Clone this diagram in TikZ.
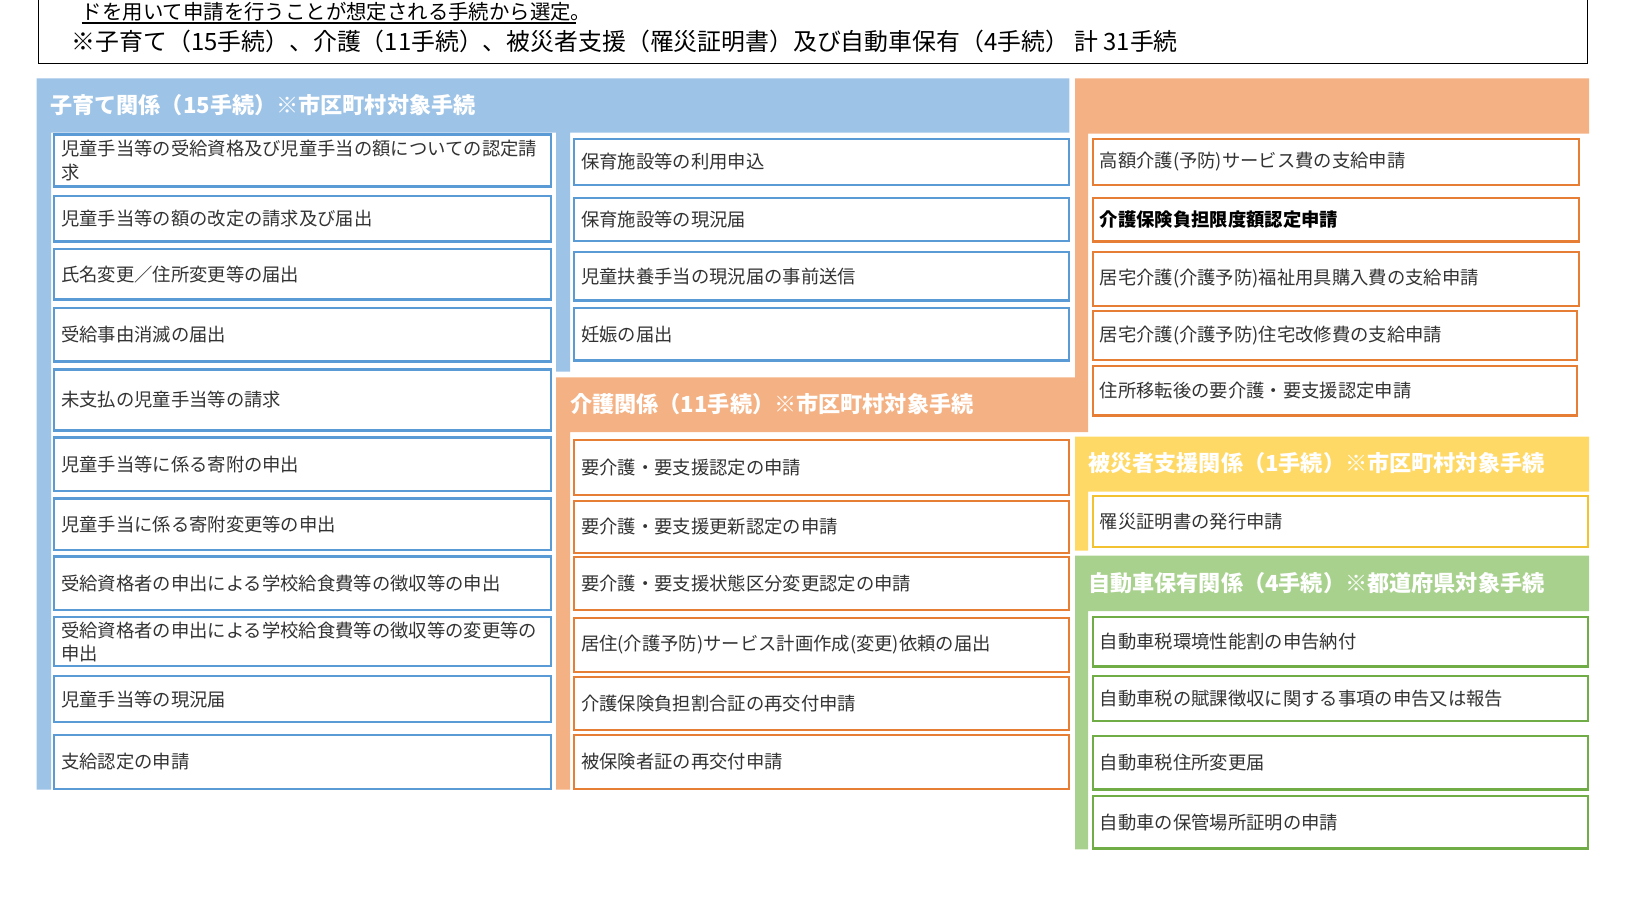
\documentclass[tikz,border=0pt]{standalone}
\usepackage{fontspec}
\setmainfont{Noto Sans CJK JP}
\definecolor{bluefill}{HTML}{9DC3E6}
\definecolor{blueline}{HTML}{5B9BD5}
\definecolor{orangefill}{HTML}{F4B183}
\definecolor{orangeline}{HTML}{E67E35}
\definecolor{yellowfill}{HTML}{FFD966}
\definecolor{yellowline}{HTML}{F2C231}
\definecolor{greenfill}{HTML}{A9D18E}
\definecolor{greenline}{HTML}{70AD47}
\definecolor{textgray}{HTML}{333333}
\newcommand\boxfont{\fontsize{13.75pt}{17.3pt}\selectfont}
\newcommand\headfont{\fontsize{16.6pt}{20pt}\selectfont\bfseries}
\newcommand\procbox[7]{%
  \node[#2, anchor=north west, minimum width={(#5-#3)*0.75pt}, minimum height={(#6-#4)*0.75pt}, text width={(#5-#3-14)*0.75pt}] (#1) at (#3,#4) {#7};}
\tikzset{
  boxbase/.style={draw, fill=white, line width=1.6pt, inner xsep=5.25pt, inner ysep=0pt, outer sep=0pt, align=left, font=\boxfont, text=textgray},
  bluebox/.style={boxbase, draw=blueline},
  orangebox/.style={boxbase, draw=orangeline},
  yellowbox/.style={boxbase, draw=yellowline},
  greenbox/.style={boxbase, draw=greenline},
  headtext/.style={anchor=west, inner sep=0pt, text=white, font=\headfont},
  toptext/.style={anchor=west, inner sep=0pt, text=black}
}
\begin{document}
\begin{tikzpicture}[x=0.75pt,y=-0.75pt]
\useasboundingbox (0,0) rectangle (1625,910);
% top note box
\draw[line width=1.1pt, black] (38.3,-5) rectangle (1587.3,63.3);
\node[toptext, font=\fontsize{15.3pt}{18pt}\selectfont] (t1) at (81.7,12) {ドを用いて申請を行うことが想定される手続から選定。};
\coordinate (ul) at (0,23);
\draw[line width=1.1pt, black] (t1.west |- ul) -- ([xshift=-12pt]t1.east |- ul);
\node[toptext, font=\fontsize{17.9pt}{20pt}\selectfont] (t2) at (71.7,41) {※子育て（15手続）、介護（11手続）、被災者支援（罹災証明書）及び自動車保有（4手続）\ 計 31手続};
% panels
\fill[bluefill] (36.7,78.3) -- (1069.3,78.3) -- (1069.3,132.7) -- (570,132.7) -- (570,371.7) -- (556,371.7) -- (556,132.7) -- (51,132.7) -- (51,789.7) -- (36.7,789.7) -- cycle;
\fill[orangefill] (1075,78.3) -- (1589,78.3) -- (1589,133.5) -- (1088,133.5) -- (1088,432) -- (570,432) -- (570,789.7) -- (556,789.7) -- (556,377.3) -- (1075,377.3) -- cycle;
\fill[yellowfill] (1075,436.7) -- (1589,436.7) -- (1589,491.7) -- (1088,491.7) -- (1088,550.7) -- (1075,550.7) -- cycle;
\fill[greenfill] (1075,555.7) -- (1589,555.7) -- (1589,611) -- (1088,611) -- (1088,849.3) -- (1075,849.3) -- cycle;
% headers
\node[headtext] (hb) at (50,105) {子育て関係（15手続）※市区町村対象手続};
\node[headtext] (ho) at (570,404) {介護関係（11手続）※市区町村対象手続};
\node[headtext] (hy) at (1088,463) {被災者支援関係（1手続）※市区町村対象手続};
\node[headtext] (hg) at (1088,583) {自動車保有関係（4手続）※都道府県対象手続};
% left column (blue)
\procbox{b1}{bluebox}{54}{134.5}{551}{186.5}{児童手当等の受給資格及び児童手当の額についての認定請\\求}
\procbox{b2}{bluebox}{54}{196}{551}{241.5}{児童手当等の額の改定の請求及び届出}
\procbox{b3}{bluebox}{54}{248.7}{551}{299.5}{氏名変更／住所変更等の届出}
\procbox{b4}{bluebox}{54}{308}{551}{361.5}{受給事由消滅の届出}
\procbox{b5}{bluebox}{54}{369.5}{551}{430.5}{未支払の児童手当等の請求}
\procbox{b6}{bluebox}{54}{437.5}{551}{491}{児童手当等に係る寄附の申出}
\procbox{b7}{bluebox}{54}{498.5}{551}{550.3}{児童手当に係る寄附変更等の申出}
\procbox{b8}{bluebox}{54}{556.5}{551}{610.4}{受給資格者の申出による学校給食費等の徴収等の申出}
\procbox{b9}{bluebox}{54}{616.7}{551}{666.4}{受給資格者の申出による学校給食費等の徴収等の変更等の\\申出}
\procbox{b10}{bluebox}{54}{675.7}{551}{722.4}{児童手当等の現況届}
\procbox{b11}{bluebox}{54}{734.8}{551}{789}{支給認定の申請}
% middle column (blue)
\procbox{m1}{bluebox}{574}{139}{1069}{185}{保育施設等の利用申込}
\procbox{m2}{bluebox}{574}{198.3}{1069}{241}{保育施設等の現況届}
\procbox{m3}{bluebox}{574}{251.7}{1069}{300.5}{児童扶養手当の現況届の事前送信}
\procbox{m4}{bluebox}{574}{308}{1069}{360.5}{妊娠の届出}
% middle column (orange)
\procbox{k1}{orangebox}{574}{440}{1069}{495}{要介護・要支援認定の申請}
\procbox{k2}{orangebox}{574}{500.7}{1069}{553}{要介護・要支援更新認定の申請}
\procbox{k3}{orangebox}{574}{556.7}{1069}{610}{要介護・要支援状態区分変更認定の申請}
\procbox{k4}{orangebox}{574}{617.7}{1069}{671.6}{居住(介護予防)サービス計画作成(変更)依頼の届出}
\procbox{k5}{orangebox}{574}{676.8}{1069}{729.6}{介護保険負担割合証の再交付申請}
\procbox{k6}{orangebox}{574}{734.8}{1069}{789}{被保険者証の再交付申請}
% right column (orange)
\procbox{r1}{orangebox}{1092.7}{139}{1579.3}{185}{高額介護(予防)サービス費の支給申請}
\procbox{r2}{orangebox}{1092.7}{198.3}{1579.3}{241.5}{\textcolor{black}{\bfseries 介護保険負担限度額認定申請}}
\procbox{r3}{orangebox}{1092.7}{251.8}{1579.3}{305.7}{居宅介護(介護予防)福祉用具購入費の支給申請}
\procbox{r4}{orangebox}{1092.7}{311}{1577}{359.6}{居宅介護(介護予防)住宅改修費の支給申請}
\procbox{r5}{orangebox}{1092.7}{365.8}{1577}{415.5}{住所移転後の要介護・要支援認定申請}
% yellow
\procbox{y1}{yellowbox}{1092.7}{496}{1588}{546.7}{罹災証明書の発行申請}
% green
\procbox{g1}{greenbox}{1092.7}{616.7}{1588}{666.5}{自動車税環境性能割の申告納付}
\procbox{g2}{greenbox}{1092.7}{676}{1588}{721}{自動車税の賦課徴収に関する事項の申告又は報告}
\procbox{g3}{greenbox}{1092.7}{736}{1588}{789.5}{自動車税住所変更届}
\procbox{g4}{greenbox}{1092.7}{796}{1588}{848.5}{自動車の保管場所証明の申請}
\end{tikzpicture}
\end{document}
